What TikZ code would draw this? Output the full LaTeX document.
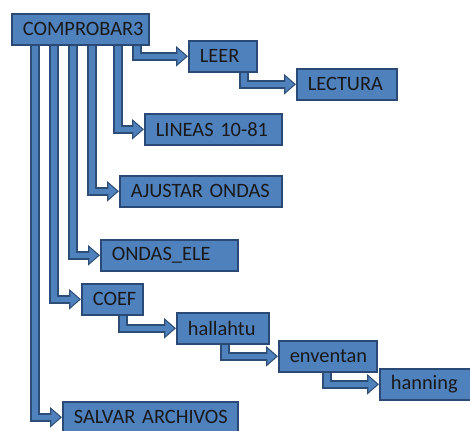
\documentclass[tikz,border=0pt]{standalone}
\usepackage{fontspec}
\setmainfont{Carlito}
\usetikzlibrary{calc,arrows.meta}
\definecolor{boxfill}{HTML}{4F81BD}
\definecolor{boxline}{HTML}{2A4A75}
\definecolor{arrowline}{HTML}{2C4D75}
\tikzstyle{routine}=[draw=boxline, line width=1.2pt, fill=boxfill, anchor=north west, inner xsep=8.25pt, inner ysep=0pt, minimum height=23.25pt, align=left, font=\fontsize{15.3}{18}\selectfont, text=black!90]
\tikzstyle{link}=[draw=boxfill, line width=4.2pt, -{Triangle[length=6.5pt,width=11pt]}, shorten >=1.4pt, preaction={draw=arrowline, line width=7pt, -{Triangle[length=9pt,width=15pt]}, shorten >=0pt}]
\newcommand{\pxscale}{0.75pt}

\begin{document}
\begin{tikzpicture}[x=\pxscale, y=-\pxscale]
    \useasboundingbox (0,0) rectangle (470,430);
    % First we draw the routines
    \foreach \name/\px/\py/\w/\txt in {top/11/13/137/COMPROBAR3, leer/188/40/68/LEER, lectura/296/68/100/LECTURA,
        lineas/144/113/137/LINEAS 10-81, ajustar/119/175/162/AJUSTAR ONDAS, ondasele/100/239/137/ONDAS\_ELE,
        coef/81/283/61/COEF, hallahtu/176/312/92/hallahtu, enventan/278/340/98/enventan,
        hanning/379/368/95/hanning, salvar/62/401/175/SALVAR ARCHIVOS}
    {
        \pgfmathsetmacro\tw{(\w-22)*0.75}
        \node[routine, text width=\tw pt] (\name) at (\px,\py) {\mbox{\txt}};
    }
    % Calls from the main program
    \foreach \dx/\dest in {126/leer, 107/lineas, 81/ajustar, 62/ondasele, 43/coef, 24/salvar}
        \draw[link] ($(top.south west)+(\dx,0)$) |- (\dest.west);
    % Nested calls
    \foreach \source/\dx/\dest in {leer/56/lectura, coef/42/hallahtu, hallahtu/49/enventan, enventan/49/hanning}
        \draw[link] ($(\source.south west)+(\dx,0)$) |- (\dest.west);
\end{tikzpicture}
\end{document}
